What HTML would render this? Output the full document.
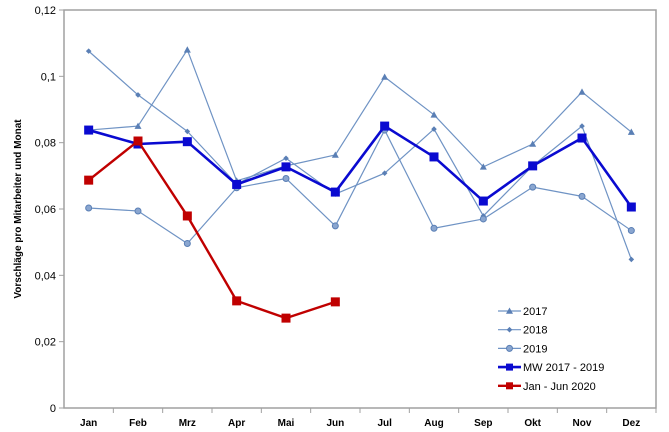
<!DOCTYPE html>
<html><head><meta charset="utf-8"><style>
body{margin:0;background:#fff;}
svg{display:block;font-family:"Liberation Sans",Arial,sans-serif;}
</style></head><body>
<svg id="chart" width="669" height="432" viewBox="0 0 669 432">
<rect x="64" y="10" width="592" height="398" fill="#fff" stroke="#a0a0a0" stroke-width="1.5"/>
<text transform="translate(21,209) rotate(-90)" text-anchor="middle" font-size="10" font-weight="bold" fill="#000">Vorschläge pro Mitarbeiter und Monat</text>
<g id="axes"></g>
<g id="series"></g>
<g id="legend"></g>
</svg>
<script>
const months = ["Jan","Feb","Mrz","Apr","Mai","Jun","Jul","Aug","Sep","Okt","Nov","Dez"];
const yTicks = [0,0.02,0.04,0.06,0.08,0.1,0.12];
const yTickLabels = ["0","0,02","0,04","0,06","0,08","0,1","0,12"];
const s2017 = [0.0838,0.085,0.108,0.0685,0.073,0.0763,0.0998,0.0884,0.0727,0.0796,0.0953,0.0832];
const s2018 = [0.1076,0.0944,0.0834,0.0675,0.0753,0.0645,0.0708,0.0841,0.0579,0.073,0.085,0.0448];
const s2019 = [0.0603,0.0594,0.0496,0.0664,0.0692,0.0549,0.0838,0.0542,0.057,0.0666,0.0638,0.0535];
const sMW = [0.0838,0.0796,0.0803,0.0674,0.0727,0.0651,0.085,0.0757,0.0624,0.073,0.0814,0.0606];
const s2020 = [0.0687,0.0805,0.0579,0.0323,0.0271,0.032];
const seriesNames = ["2017","2018","2019","MW 2017 - 2019","Jan - Jun 2020"];

const NS="http://www.w3.org/2000/svg";
const L=64,R=656,T=10,B=408;
const band=(R-L)/months.length;
const xS=i=>L+band*(i+0.5);
const yS=v=>B-(v/0.12)*(B-T);
function mk(tag,attrs,parent){const e=document.createElementNS(NS,tag);for(const k in attrs)e.setAttribute(k,attrs[k]);parent.appendChild(e);return e;}
const axes=document.getElementById('axes');
yTicks.forEach((v,i)=>{
  const t=mk('line',{x1:L-5,x2:L,y1:yS(v),y2:yS(v),stroke:'#a0a0a0'},axes);
  
  
  const lb=mk('text',{x:L-8,y:yS(v)+4,'text-anchor':'end','font-size':'11',fill:'#000'},axes);
  lb.textContent=yTickLabels[i];
  
  
});
months.forEach((m,i)=>{
  const t=mk('line',{x1:L+band*(i+1),x2:L+band*(i+1),y1:B,y2:B+5,stroke:'#a0a0a0'},axes);
  
  
  const lb=mk('text',{x:xS(i),y:426,'text-anchor':'middle','font-size':'10','font-weight':'bold',fill:'#000'},axes);
  lb.textContent=m;
  
  
});
const styles=[
 {c:'#6f93c4',w:1.2,m:'tri',s:3.5},
 {c:'#6f93c4',w:1.2,m:'dia',s:2.8},
 {c:'#6f93c4',w:1.2,m:'circ',s:3},
 {c:'#0a0ad0',w:2.6,m:'sq',s:4.5},
 {c:'#c00000',w:2.4,m:'sq',s:4.5}];
const sg=document.getElementById('series');
function marker(g,st,x,y){
  let e;
  if(st.m==='tri')e=mk('polygon',{points:`${x},${y-st.s} ${x-st.s},${y+st.s*0.8} ${x+st.s},${y+st.s*0.8}`,fill:'#5a7fb5'},g);
  else if(st.m==='dia')e=mk('polygon',{points:`${x},${y-st.s} ${x+st.s},${y} ${x},${y+st.s} ${x-st.s},${y}`,fill:'#5a7fb5'},g);
  else if(st.m==='circ')e=mk('circle',{cx:x,cy:y,r:st.s,fill:'#8aa6d0',stroke:'#5a7fb5','stroke-width':1},g);
  else e=mk('rect',{x:x-st.s,y:y-st.s,width:st.s*2,height:st.s*2,fill:st.c},g);
  return e;
}
[s2017,s2018,s2019,sMW,s2020].forEach((data,k)=>{
  const st=styles[k];
  const g=mk('g',{},sg);
  
  
  const pl=mk('polyline',{points:data.map((v,i)=>xS(i)+','+yS(v)).join(' '),fill:'none',stroke:st.c,'stroke-width':st.w,'stroke-linejoin':'round'},g);
  
  
  data.forEach((v,i)=>{
    const e=marker(g,st,xS(i),yS(v));
    
    
  });
});
const lg=document.getElementById('legend');
seriesNames.forEach((n,k)=>{
  const st=styles[k];
  const y=311+k*18.7;
  const g=mk('g',{},lg);
  
  
  mk('line',{x1:498,x2:521,y1:y,y2:y,stroke:st.c,'stroke-width':st.w},g);
  marker(g,{...st,s:Math.min(st.s,3.5)},509.5,y);
  const t=mk('text',{x:523,y:y+4,'font-size':'11',fill:'#000'},g);
  t.textContent=n;
});
</script>
</body></html>
